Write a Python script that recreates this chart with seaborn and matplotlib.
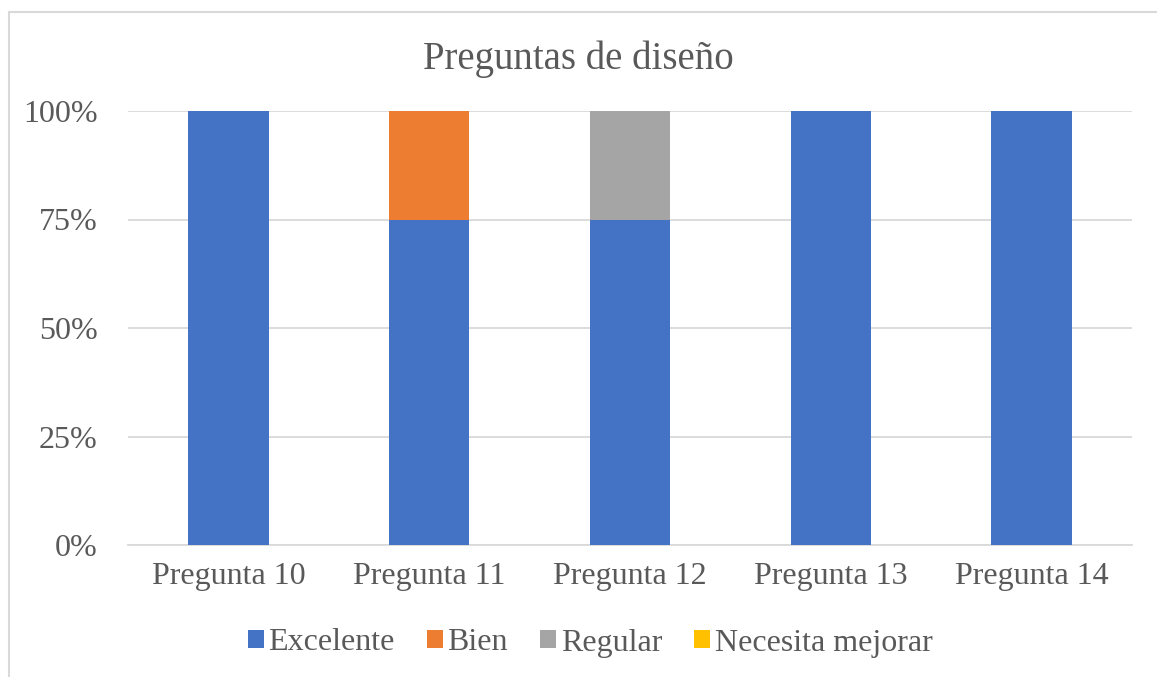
import matplotlib
matplotlib.use("Agg")
import matplotlib.pyplot as plt
from matplotlib.patches import Rectangle, Patch
from matplotlib.ticker import PercentFormatter
import pandas as pd
import seaborn as sns

# chart data
categories = ["Pregunta 10", "Pregunta 11", "Pregunta 12", "Pregunta 13", "Pregunta 14"]
series_names = ["Excelente", "Bien", "Regular", "Necesita mejorar"]
excelente = [100, 75, 75, 100, 100]
bien = [0, 25, 0, 0, 0]
regular = [0, 0, 25, 0, 0]
necesita_mejorar = [0, 0, 0, 0, 0]
colors = ["#4472C4", "#ED7D31", "#A5A5A5", "#FFC000"]
y_ticks = [0, 25, 50, 75, 100]

TEXT = "#595959"
GRID = "#D9D9D9"

sns.set_theme(style="white")
plt.rcParams["font.family"] = ["Liberation Serif", "DejaVu Serif"]

fig = plt.figure(figsize=(11.57, 6.77), dpi=100)
ax = fig.add_axes([128 / 1157, 1 - 545 / 677, (1132 - 128) / 1157, (545 - 111) / 677])

# outer chart frame (Excel style), clipped by figure edges
fig.patches.append(Rectangle((9 / 1157, -0.1), 1.2, 1 - 12 / 677 + 0.1,
                             transform=fig.transFigure, fill=False,
                             edgecolor=GRID, linewidth=1.5, zorder=0))

df = pd.DataFrame({"cat": categories, "Excelente": excelente, "Bien": bien,
                   "Regular": regular, "Necesita mejorar": necesita_mejorar})

# stacked bars, one layer per series
bottom = [0] * len(categories)
for name, col in zip(series_names, colors):
    sns.barplot(data=df, x="cat", y=name, color=col, bottom=bottom,
                width=0.4, saturation=1, linewidth=0, ax=ax, zorder=3)
    bottom = [b + v for b, v in zip(bottom, df[name])]

ax.set_xlim(-0.5, len(categories) - 0.5)
ax.set_ylim(0, 100)
ax.set_yticks(y_ticks)
ax.yaxis.set_major_formatter(PercentFormatter(decimals=0))
ax.grid(axis="y", color=GRID, linewidth=1.3, zorder=0)
for s in ["top", "right", "left"]:
    ax.spines[s].set_visible(False)
ax.spines["bottom"].set_color(GRID)
ax.spines["bottom"].set_linewidth(1.3)
ax.set_xlabel("")
ax.set_ylabel("")
ax.tick_params(axis="both", length=0, labelsize=23, colors=TEXT)
ax.tick_params(axis="x", pad=12)
ax.tick_params(axis="y", pad=22)

fig.text(0.5, 1 - 59 / 677, "Preguntas de diseño", ha="center", va="center",
         fontsize=28, color=TEXT)

handles = [Patch(facecolor=c, edgecolor="none") for c in colors]
fig.legend(handles, series_names, loc="center", bbox_to_anchor=(0.510, 1 - 643 / 677),
           ncol=4, frameon=False, fontsize=23, labelcolor=TEXT,
           handlelength=0.5, handleheight=0.5, handletextpad=0.15, columnspacing=1.0)

fig.savefig("out.png", dpi=100)
